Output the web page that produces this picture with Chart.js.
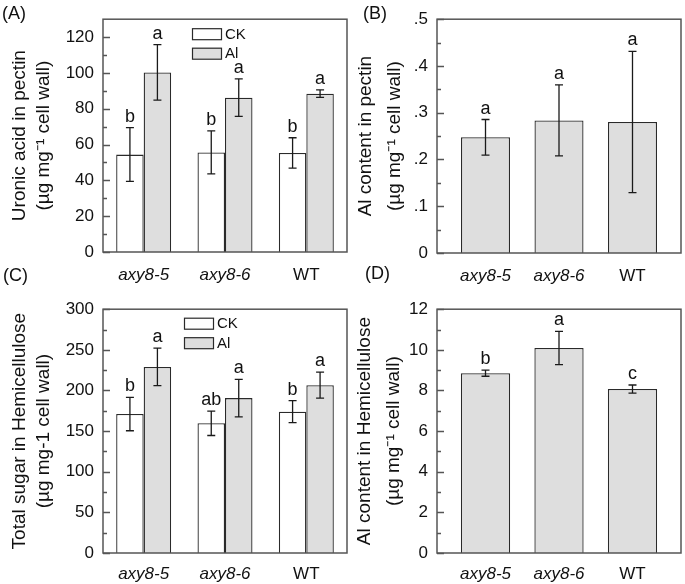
<!DOCTYPE html>
<html>
<head>
<meta charset="utf-8">
<script src="https://cdn.jsdelivr.net/npm/chart.js@4.4.1/dist/chart.umd.min.js"></script>
<style>
  body { margin: 0; background: #fff; width: 685px; height: 584px; position: relative; overflow: hidden;
         font-family: "Liberation Sans", Arial, sans-serif; }
  canvas { position: absolute; }
  .tag { position: absolute; font-size: 18px; color: #111; line-height: 21px; }
</style>
</head>
<body>
<canvas id="chA" width="350" height="290" style="left:0;top:0"></canvas>
<canvas id="chB" width="342" height="290" style="left:343px;top:0"></canvas>
<canvas id="chC" width="350" height="294" style="left:0;top:290px"></canvas>
<canvas id="chD" width="342" height="294" style="left:343px;top:290px"></canvas>
<div class="tag" style="left:2px;top:3px">(A)</div>
<div class="tag" style="left:363px;top:3px">(B)</div>
<div class="tag" style="left:3px;top:265px">(C)</div>
<div class="tag" style="left:365px;top:263px">(D)</div>
<script>
// categories, x positions
const genotypes = ['axy8-5', 'axy8-6', 'WT']
const xPos = [1, 2, 3]

// (A) uronic acid in pectin
const uronicCK = [54.4, 55.6, 55.3]
const uronicCKErr = [15, 12, 8.5]
const uronicCKLetters = ['b', 'b', 'b']
const uronicAl = [100.3, 86.2, 88.4]
const uronicAlErr = [15.5, 10.5, 2.1]
const uronicAlLetters = ['a', 'a', 'a']
const uronicTicks = [0, 20, 40, 60, 80, 100, 120]

// (B) Al content in pectin
const pectinAl = [0.2475, 0.2836, 0.280]
const pectinAlErr = [0.038, 0.076, 0.151]
const pectinAlLetters = ['a', 'a', 'a']
const pectinTicks = [0, 0.1, 0.2, 0.3, 0.4, 0.5]

// (C) total sugar in hemicellulose
const sugarCK = [171, 159.6, 173.9]
const sugarCKErr = [20.6, 15, 13.5]
const sugarCKLetters = ['b', 'ab', 'b']
const sugarAl = [229, 190.6, 206.5]
const sugarAlErr = [23, 23, 16]
const sugarAlLetters = ['a', 'a', 'a']
const sugarTicks = [0, 50, 100, 150, 200, 250, 300]

// (D) Al content in hemicellulose
const hemiAl = [8.85, 10.09, 8.07]
const hemiAlErr = [0.15, 0.82, 0.2]
const hemiAlLetters = ['b', 'a', 'c']
const hemiTicks = [0, 2, 4, 6, 8, 10, 12]

const FONT = '"Liberation Sans", Arial, sans-serif'
const INK = '#111'
const CK_FILL = '#ffffff'
const AL_FILL = '#dedede'

let pts = (vals) => vals.map((v, i) => ({ x: xPos[i], y: v }))

let barSet = (label, vals, errs, letters, fill) => ({
  label: label,
  data: pts(vals),
  errors: errs,
  letters: letters,
  backgroundColor: fill,
  borderColor: '#2a2a2a',
  borderWidth: 1.3
})

// error bars, letters, frame, inner ticks, legend
const decor = {
  id: 'decor',
  afterDatasetsDraw(chart, args, opts) {
    const ctx = chart.ctx
    const a = chart.chartArea
    const y = chart.scales.y
    ctx.save()

    chart.data.datasets.forEach((ds, di) => {
      chart.getDatasetMeta(di).data.forEach((bar, i) => {
        const v = ds.data[i].y, e = ds.errors[i]
        const top = y.getPixelForValue(v + e), bot = y.getPixelForValue(v - e)
        ctx.strokeStyle = '#1a1a1a'
        ctx.lineWidth = 1.3
        ctx.beginPath()
        ctx.moveTo(bar.x, top); ctx.lineTo(bar.x, bot)
        ctx.moveTo(bar.x - 4, top); ctx.lineTo(bar.x + 4, top)
        ctx.moveTo(bar.x - 4, bot); ctx.lineTo(bar.x + 4, bot)
        ctx.stroke()
        ctx.fillStyle = INK
        ctx.font = '18px ' + FONT
        ctx.textAlign = 'center'
        ctx.textBaseline = 'alphabetic'
        ctx.fillText(ds.letters[i], bar.x, top - 6)
      })
    })

    // frame
    ctx.strokeStyle = '#555'
    ctx.lineWidth = 1.5
    ctx.strokeRect(a.left, a.top, a.right - a.left, a.bottom - a.top)

    // inner ticks on the left axis, minor ones half way
    const vals = y.ticks.map(t => t.value)
    ctx.lineWidth = 1.3
    ctx.beginPath()
    vals.forEach((v, i) => {
      const p = Math.round(y.getPixelForValue(v)) + 0.5
      ctx.moveTo(a.left, p); ctx.lineTo(a.left + 7, p)
      if (i < vals.length - 1) {
        const m = Math.round(y.getPixelForValue((v + vals[i + 1]) / 2)) + 0.5
        ctx.moveTo(a.left, m); ctx.lineTo(a.left + 4, m)
      }
    })
    ctx.stroke()

    // legend
    if (opts.legendAt) {
      const lx = a.left + opts.legendAt[0], ly = a.top + opts.legendAt[1]
      chart.data.datasets.forEach((ds, di) => {
        const by = ly + di * 19.5
        ctx.fillStyle = ds.backgroundColor
        ctx.fillRect(lx, by, 29, 11)
        ctx.strokeStyle = '#2a2a2a'
        ctx.lineWidth = 1.2
        ctx.strokeRect(lx + 0.5, by + 0.5, 29, 11)
        ctx.fillStyle = INK
        ctx.font = '15px ' + FONT
        ctx.textAlign = 'left'
        ctx.textBaseline = 'middle'
        ctx.fillText(ds.label, lx + 33, by + 6.5)
      })
    }
    ctx.restore()
  }
}

let build = (id, datasets, o) => new Chart(document.getElementById(id), {
  type: 'bar',
  data: { datasets: datasets },
  options: {
    responsive: false,
    animation: false,
    layout: { padding: o.pad },
    datasets: { bar: { categoryPercentage: o.catPct, barPercentage: 1 } },
    plugins: {
      legend: { display: false },
      tooltip: { enabled: false },
      decor: { legendAt: o.legendAt }
    },
    scales: {
      x: {
        type: 'linear', min: o.xMin, max: o.xMax, offset: false, bounds: 'data',
        grid: { display: false, drawTicks: false, offset: false },
        border: { display: false },
        afterBuildTicks: s => { s.ticks = xPos.map(v => ({ value: v })) },
        afterFit: s => { s.height = o.xH },
        ticks: {
          padding: o.xPad, color: INK,
          callback: v => genotypes[v - 1],
          font: c => {
            const lab = c.tick ? genotypes[c.tick.value - 1] : ''
            return { family: FONT, size: 17, style: lab && lab.startsWith('axy') ? 'italic' : 'normal' }
          }
        }
      },
      y: {
        min: 0, max: o.yMax,
        grid: { display: false, drawTicks: false },
        border: { display: false },
        afterBuildTicks: s => { s.ticks = o.yTicks.map(v => ({ value: v })) },
        afterFit: s => { s.width = o.yW },
        ticks: { padding: 9, color: INK, font: { family: FONT, size: 17 }, callback: o.fmt || (v => v) },
        title: {
          display: true, text: o.title, color: INK,
          font: { family: FONT, size: 19, lineHeight: o.titleLH },
          padding: { top: o.titlePad, bottom: 0 }
        }
      }
    }
  },
  plugins: [decor]
})

let dotFmt = v => v === 0 ? '0' : String(Math.round(v * 10) / 10).replace(/^0/, '')

build('chA', [
  barSet('CK', uronicCK, uronicCKErr, uronicCKLetters, CK_FILL),
  barSet('Al', uronicAl, uronicAlErr, uronicAlLetters, AL_FILL)
], {
  pad: { top: 9, right: 3, left: 0, bottom: 0 }, yW: 103, xH: 38, xPad: 13,
  xMin: 0.5, xMax: 3.5, catPct: 0.676, yMax: 130, yTicks: uronicTicks,
  title: ['Uronic acid in pectin', '(µg mg⁻¹ cell wall)'], titleLH: 1.3, titlePad: 7,
  legendAt: [89, 9]
})

build('chB', [
  barSet('Al', pectinAl, pectinAlErr, pectinAlLetters, AL_FILL)
], {
  pad: { top: 9, right: 4, left: 0, bottom: 0 }, yW: 94, xH: 37, xPad: 13,
  xMin: 0.34, xMax: 3.66, catPct: 0.667, yMax: 0.5, yTicks: pectinTicks, fmt: dotFmt,
  title: ['Al content in pectin', '(µg mg⁻¹ cell wall)'], titleLH: 1.55, titlePad: 8
})

build('chC', [
  barSet('CK', sugarCK, sugarCKErr, sugarCKLetters, CK_FILL),
  barSet('Al', sugarAl, sugarAlErr, sugarAlLetters, AL_FILL)
], {
  pad: { top: 18, right: 3, left: 0, bottom: 0 }, yW: 103, xH: 31, xPad: 11,
  xMin: 0.5, xMax: 3.5, catPct: 0.676, yMax: 300, yTicks: sugarTicks,
  title: ['Total sugar in Hemicellulose', '(µg mg-1 cell wall)'], titleLH: 1.3, titlePad: 7,
  legendAt: [81, 8.5]
})

build('chD', [
  barSet('Al', hemiAl, hemiAlErr, hemiAlLetters, AL_FILL)
], {
  pad: { top: 18, right: 4, left: 0, bottom: 0 }, yW: 94, xH: 31, xPad: 11,
  xMin: 0.34, xMax: 3.66, catPct: 0.67, yMax: 12, yTicks: hemiTicks,
  title: ['Al content in Hemicellulose', '(µg mg⁻¹ cell wall)'], titleLH: 1.55, titlePad: 7
})
</script>
</body>
</html>
